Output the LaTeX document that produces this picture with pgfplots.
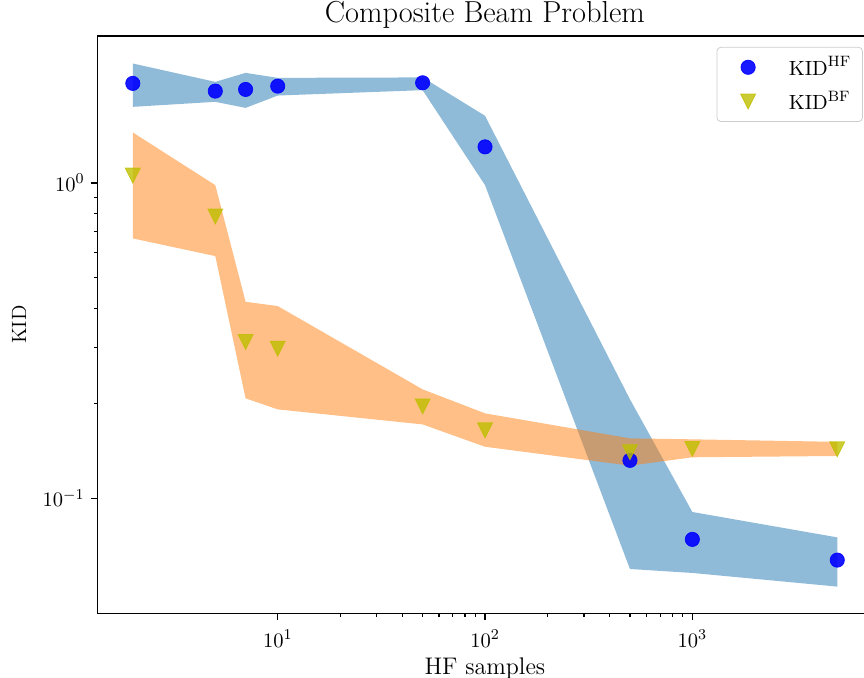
\documentclass[border=0pt]{standalone}
\usepackage{pgfplots}
\pgfplotsset{compat=1.18}
\definecolor{tabblue}{RGB}{31,119,180}
\definecolor{taborange}{RGB}{255,127,14}
\definecolor{mplb}{RGB}{0,0,255}
\definecolor{mply}{RGB}{191,191,0}
\pgfdeclareplotmark{tridown}{%
  \pgfpathmoveto{\pgfqpoint{0pt}{-\pgfplotmarksize}}%
  \pgfpathlineto{\pgfqpoint{\pgfplotmarksize}{\pgfplotmarksize}}%
  \pgfpathlineto{\pgfqpoint{-\pgfplotmarksize}{\pgfplotmarksize}}%
  \pgfpathclose\pgfusepathqfillstroke}
\pgfplotsset{myleg/.style={legend image code/.code={\path (0pt,0pt) (34.9pt,0pt); \draw[##1] plot coordinates {(13.4pt,0pt)};}}}
\begin{document}
\begin{tikzpicture}
\useasboundingbox (0pt,0pt) rectangle (460.8pt,361.07pt);
\begin{axis}[
  at={(52.1pt,33.97pt)}, anchor=south west,
  scale only axis, width=413pt, height=307.9pt,
  xmode=log, ymode=log,
  xmin=1.354, xmax=7360, ymin=0.0432, ymax=2.92,
  tick align=outside, major tick length=3.5pt, minor tick length=2pt,
  xtick pos=bottom, ytick pos=left,
  axis line style={line width=0.8pt},
  every tick/.style={black, line width=0.8pt},
  minor tick style={line width=0.6pt},
  xtick={10,100,1000}, ytick={0.1,1},
  tick label style={font=\fontsize{11}{13}\selectfont},
  xticklabel style={yshift=-2pt},
  title={Composite Beam Problem},
  every axis title/.style={at={(0.5,1)}, anchor=base, yshift=7pt, font=\fontsize{16.2}{19}\selectfont},
  xlabel={HF samples}, ylabel={KID},
  xlabel style={font=\fontsize{12.8}{15}\selectfont, at={(axis description cs:0.5,0)}, anchor=base, yshift=-32.5pt},
  ylabel style={font=\fontsize{11}{13}\selectfont},
  ylabel shift=2pt,
  legend cell align=left,
  legend style={at={(0.988,0.981)}, anchor=north east, draw=black!20, rounded corners=2pt,
    fill=white, fill opacity=0.8, text opacity=1, inner xsep=3pt, inner ysep=3pt, row sep=3pt,
    font=\fontsize{11}{13}\selectfont, nodes={inner xsep=0pt}},
]
% HF band
\addplot[fill=tabblue, fill opacity=0.5, draw=none, forget plot] coordinates {
 (2,2.389) (5,2.089) (7,2.231) (10,2.151) (50,2.158) (100,1.631) (500,0.206) (1000,0.0905) (5000,0.0752)
 (5000,0.0525) (1000,0.058) (500,0.0597) (100,0.983) (50,1.967) (10,1.891) (7,1.728) (5,1.806) (2,1.741)
} -- cycle;
% BF band
\addplot[fill=taborange, fill opacity=0.5, draw=none, forget plot] coordinates {
 (2,1.444) (5,0.983) (7,0.4197) (10,0.4067) (50,0.2215) (100,0.1859) (500,0.1549) (1000,0.1538) (5000,0.151)
 (5000,0.1362) (1000,0.1349) (500,0.1269) (100,0.1457) (50,0.1715) (10,0.1914) (7,0.2074) (5,0.5858) (2,0.6665)
} -- cycle;
\addplot[only marks, myleg, mark=*, mark size=3.8pt, mark options={fill=mplb, draw=mplb, opacity=0.9, line width=0.4pt}] coordinates {
 (2,2.066) (5,1.953) (7,1.977) (10,2.025) (50,2.075) (100,1.300) (500,0.1319) (1000,0.0741) (5000,0.0637)
};
\addlegendentry{$\mathrm{KID}^{\mathrm{HF}}$\kern3pt}
\addplot[only marks, myleg, mark=tridown, mark size=4pt, mark options={fill=mply, draw=mply, opacity=0.8, line width=0.4pt}] coordinates {
 (2,1.054) (5,0.782) (7,0.313) (10,0.298) (50,0.1956) (100,0.1642) (500,0.140) (1000,0.1433) (5000,0.143)
};
\addlegendentry{$\mathrm{KID}^{\mathrm{BF}}$\kern3pt}
\end{axis}
\end{tikzpicture}
\end{document}
